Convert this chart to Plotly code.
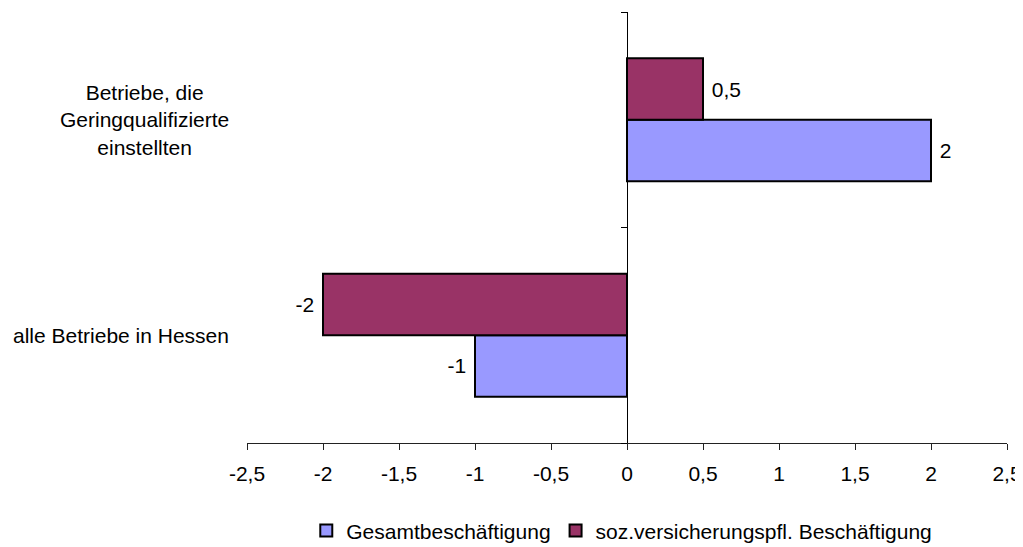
import plotly.graph_objects as go

categories = ["alle Betriebe in Hessen", "Betriebe, die<br>Geringqualifizierte<br>einstellten"]
series_names = ["Gesamtbeschäftigung", "soz.versicherungspfl. Beschäftigung"]
gesamt_values = [-1, 2]
soz_values = [-2, 0.5]
series_colors = ["#9999FF", "#993366"]
tick_values = [-2.5, -2, -1.5, -1, -0.5, 0, 0.5, 1, 1.5, 2, 2.5]
tick_labels = ["-2,5", "-2", "-1,5", "-1", "-0,5", "0", "0,5", "1", "1,5", "2", "2,5"]

X_MIN, X_MAX = -2.5, 2.5
FONT = "Arial, Liberation Sans, sans-serif"
FS = 21


def fmt(v):
    return f"{v:g}".replace(".", ",")


def templ(vals):
    return [" %{text}" if v >= 0 else "%{text} " for v in vals]


fig = go.Figure()
for name, vals, col in zip(series_names, [gesamt_values, soz_values], series_colors):
    fig.add_trace(go.Bar(
        y=categories, x=vals, name=name, orientation="h",
        marker=dict(color=col, line=dict(color="black", width=2)),
        text=[fmt(v) for v in vals], texttemplate=templ(vals),
        textposition="outside", textfont=dict(size=FS, color="black", family=FONT),
        cliponaxis=False,
    ))

for cat in categories:
    fig.add_annotation(
        xref="paper", yref="y", x=0, y=cat, text=cat, showarrow=False,
        xanchor="right", yanchor="middle", align="center", xshift=-16,
        font=dict(size=FS, color="black", family=FONT),
    )

fig.update_layout(
    width=1023, height=547,
    margin=dict(l=239, r=24, t=4, b=112, autoexpand=False),
    paper_bgcolor="white", plot_bgcolor="white",
    barmode="group", bargap=0.43, bargroupgap=0,
    font=dict(family=FONT, size=FS, color="black"),
    showlegend=True,
    legend=dict(orientation="h", x=0.078, xanchor="left", y=-0.204, yanchor="middle",
                font=dict(size=FS, family=FONT, color="black"), itemwidth=30,
                traceorder="normal", bgcolor="rgba(0,0,0,0)"),
    xaxis=dict(range=[X_MIN, X_MAX], tickvals=tick_values, ticktext=tick_labels,
               showgrid=False, zeroline=False, showline=True, linecolor="#222",
               linewidth=1, ticks="outside", ticklen=6, tickcolor="#222",
               ticklabelstandoff=6, tickfont=dict(size=FS), fixedrange=True),
    yaxis=dict(anchor="free", position=(0 - X_MIN) / (X_MAX - X_MIN),
               showticklabels=False, showgrid=False, zeroline=False,
               showline=True, linecolor="black", linewidth=1,
               ticks="outside", ticklen=6, tickcolor="black",
               tickson="boundaries", type="category", fixedrange=True),
)

fig.write_html("out.html")
